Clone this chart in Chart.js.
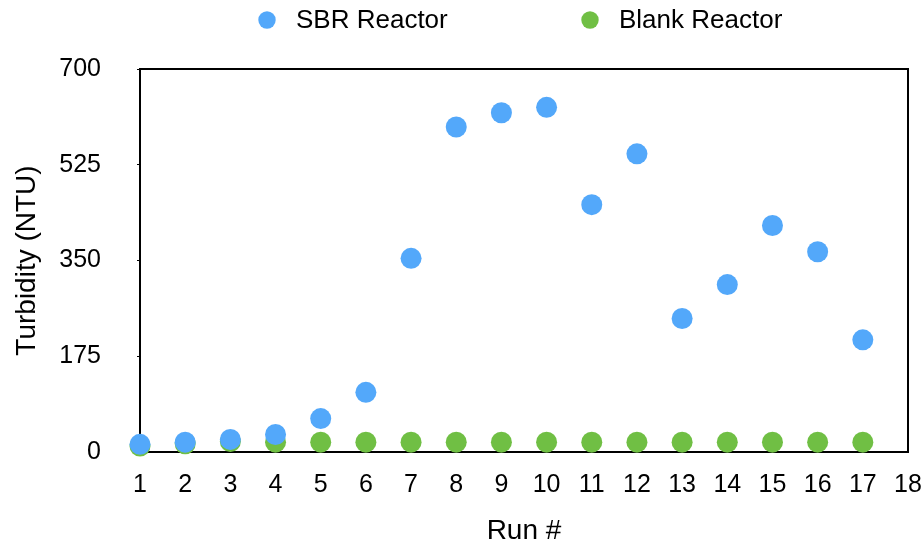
<!DOCTYPE html>
<html>
<head>
<meta charset="utf-8">
<script src="https://cdn.jsdelivr.net/npm/chart.js@4"></script>
<style>
  html, body { margin: 0; padding: 0; background: #fff; }
  #wrap { width: 924px; height: 548px; }
</style>
</head>
<body>
<div id="wrap"><canvas id="turbidity" width="924" height="548"></canvas></div>
<script>
// run numbers and turbidity readings (NTU)
var runs = [1, 2, 3, 4, 5, 6, 7, 8, 9, 10, 11, 12, 13, 14, 15, 16, 17];
var sbrValues = [14, 18, 23, 32, 61, 109, 354, 594, 620, 630, 452, 545, 244, 306, 414, 366, 205];
var blankValues = [11, 15, 19, 18, 18, 18, 18, 18, 18, 18, 18, 18, 18, 18, 18, 18, 18];
var yTicks = [0, 175, 350, 525, 700];
var seriesNames = ["SBR Reactor", "Blank Reactor"];
var seriesColors = ["#53a8fa", "#70bf44"];

var FONT = "'Liberation Sans', Arial, Helvetica, sans-serif";

function toPoints(vals) {
  return runs.map(function (r, i) { return { x: r, y: vals[i] }; });
}

// box round the plot + legend in the top strip
var framePlugin = {
  id: "frame",
  beforeDatasetsDraw: function (chart) {
    var a = chart.chartArea, ctx = chart.ctx;
    ctx.save();
    ctx.strokeStyle = "#000";
    ctx.lineWidth = 2;
    ctx.beginPath();
    ctx.moveTo(a.left, a.top);
    ctx.lineTo(a.right, a.top);
    ctx.lineTo(a.right, a.bottom);
    ctx.stroke();
    ctx.restore();
  },
  afterDraw: function (chart) {
    var ctx = chart.ctx;
    var spots = [267, 590];
    ctx.save();
    ctx.font = "26px " + FONT;
    ctx.textBaseline = "middle";
    chart.data.datasets.forEach(function (ds, i) {
      ctx.fillStyle = ds.backgroundColor;
      ctx.beginPath();
      ctx.arc(spots[i], 20, 8.7, 0, Math.PI * 2);
      ctx.fill();
      ctx.fillStyle = "#000";
      ctx.fillText(ds.label, spots[i] + 29, 21);
    });
    ctx.restore();
  }
};

var ctx = document.getElementById("turbidity").getContext("2d");
var turbidityChart = new Chart(ctx, {
  type: "scatter",
  data: {
    datasets: [
      {
        label: seriesNames[0],
        data: toPoints(sbrValues),
        backgroundColor: seriesColors[0],
        borderColor: seriesColors[0],
        pointRadius: 10.5,
        pointHoverRadius: 10.5,
        borderWidth: 0,
        clip: false
      },
      {
        label: seriesNames[1],
        data: toPoints(blankValues),
        backgroundColor: seriesColors[1],
        borderColor: seriesColors[1],
        pointRadius: 10.5,
        pointHoverRadius: 10.5,
        borderWidth: 0,
        clip: false
      }
    ]
  },
  options: {
    responsive: false,
    animation: false,
    layout: { padding: { top: 69, right: 16, left: 0, bottom: 0 } },
    plugins: {
      legend: { display: false },
      tooltip: { enabled: false }
    },
    scales: {
      x: {
        type: "linear",
        min: 1,
        max: 18,
        afterFit: function (scale) {
          scale.height = 96;
          scale.paddingLeft = 0;
          scale.paddingRight = 0;
        },
        afterBuildTicks: function (scale) {
          var t = [];
          for (var v = 1; v <= 18; v++) t.push({ value: v });
          scale.ticks = t;
        },
        grid: { drawOnChartArea: false, drawTicks: false },
        border: { color: "#000", width: 2 },
        ticks: {
          color: "#000",
          padding: 18,
          maxRotation: 0,
          autoSkip: false,
          font: { family: FONT, size: 25 }
        },
        title: {
          display: true,
          text: "Run #",
          color: "#000",
          padding: { top: 0, bottom: 0 },
          font: { family: FONT, size: 28 }
        }
      },
      y: {
        min: 0,
        max: 700,
        afterFit: function (scale) { scale.width = 140; },
        afterBuildTicks: function (scale) {
          scale.ticks = yTicks.map(function (v) { return { value: v }; });
        },
        grid: { drawOnChartArea: false, drawTicks: true, tickLength: 3, color: "#000", lineWidth: 1 },
        border: { color: "#000", width: 2 },
        ticks: {
          color: "#000",
          padding: 36,
          font: { family: FONT, size: 25 }
        },
        title: {
          display: true,
          text: "Turbidity (NTU)",
          color: "#000",
          padding: { top: 10, bottom: 0 },
          font: { family: FONT, size: 28 }
        }
      }
    }
  },
  plugins: [framePlugin]
});
</script>
</body>
</html>
